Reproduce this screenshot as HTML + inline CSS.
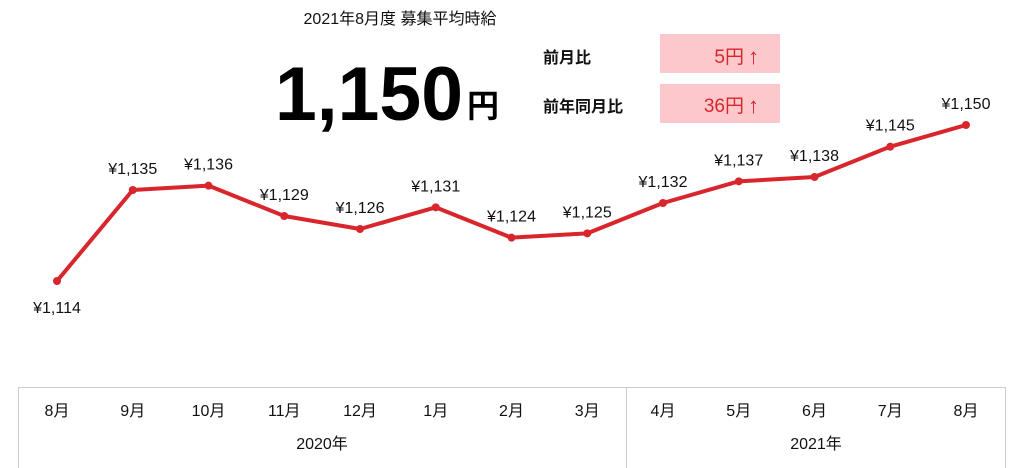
<!DOCTYPE html>
<html><head><meta charset="utf-8"><style>
body{margin:0;width:1024px;height:468px;background:#fff;overflow:hidden;font-family:"Liberation Sans","Noto Sans CJK JP",sans-serif;}
svg{position:absolute;left:0;top:0}
</style></head><body>
<svg width="1024" height="468">
<text x="400" y="24" font-size="16" text-anchor="middle" fill="#111">2021年8月度 募集平均時給</text>
<text x="275" y="120" font-size="76" font-weight="bold" fill="#000" textLength="188" lengthAdjust="spacingAndGlyphs">1,150</text>
<text x="467" y="117" font-size="32" font-weight="bold" fill="#000">円</text>
<text x="543" y="63" font-size="16" font-weight="bold" fill="#111">前月比</text>
<text x="543" y="112" font-size="16" font-weight="bold" fill="#111">前年同月比</text>
<rect x="660" y="34" width="120" height="39" fill="#fdc8cc"/>
<rect x="660" y="84" width="120" height="39" fill="#fdc8cc"/>
<text x="744" y="63" font-size="19" fill="#d8262c" text-anchor="end">5円</text>
<text x="744" y="112" font-size="19" fill="#d8262c" text-anchor="end">36円</text>
<text x="748" y="64" font-size="22" fill="#d8262c">↑</text>
<text x="748" y="113" font-size="22" fill="#d8262c">↑</text>
<g id="plot"></g>
<line x1="18" y1="387.5" x2="1006" y2="387.5" stroke="#ccc"/>
<line x1="18.5" y1="387" x2="18.5" y2="468" stroke="#ccc"/>
<line x1="626.5" y1="387" x2="626.5" y2="468" stroke="#ccc"/>
<line x1="1005.5" y1="387" x2="1005.5" y2="468" stroke="#ccc"/>
<text x="322" y="449" font-size="16" text-anchor="middle" fill="#111">2020年</text>
<text x="816" y="449" font-size="16" text-anchor="middle" fill="#111">2021年</text>
</svg>
<script>
const months=["8月","9月","10月","11月","12月","1月","2月","3月","4月","5月","6月","7月","8月"];
const wages=[1114,1135,1136,1129,1126,1131,1124,1125,1132,1137,1138,1145,1150];
const ns="http://www.w3.org/2000/svg";
const g=document.getElementById("plot");
function xs(i){return 57+i*(966-57)/(months.length-1);}
function ys(v){return 281-(v-1114)*(156/36);}
function mk(t,a){const e=document.createElementNS(ns,t);for(const k in a)e.setAttribute(k,a[k]);g.appendChild(e);return e;}
const pl=mk("polyline",{points:wages.map((v,i)=>xs(i)+","+ys(v)).join(" "),fill:"none",stroke:"#d8262c","stroke-width":4,"stroke-linejoin":"round"});


wages.forEach((v,i)=>{
 const c=mk("circle",{cx:xs(i),cy:ys(v),r:4,fill:"#d8262c"});
 
 
 const t=mk("text",{x:xs(i),y:i===0?ys(v)+32:ys(v)-16,"font-size":16,"text-anchor":"middle",fill:"#111"});
 t.textContent="¥"+v.toLocaleString("en-US");
 
 
 const m=mk("text",{x:xs(i),y:416,"font-size":16,"text-anchor":"middle",fill:"#111"});
 m.textContent=months[i];
 
 
});
</script>
</body></html>
